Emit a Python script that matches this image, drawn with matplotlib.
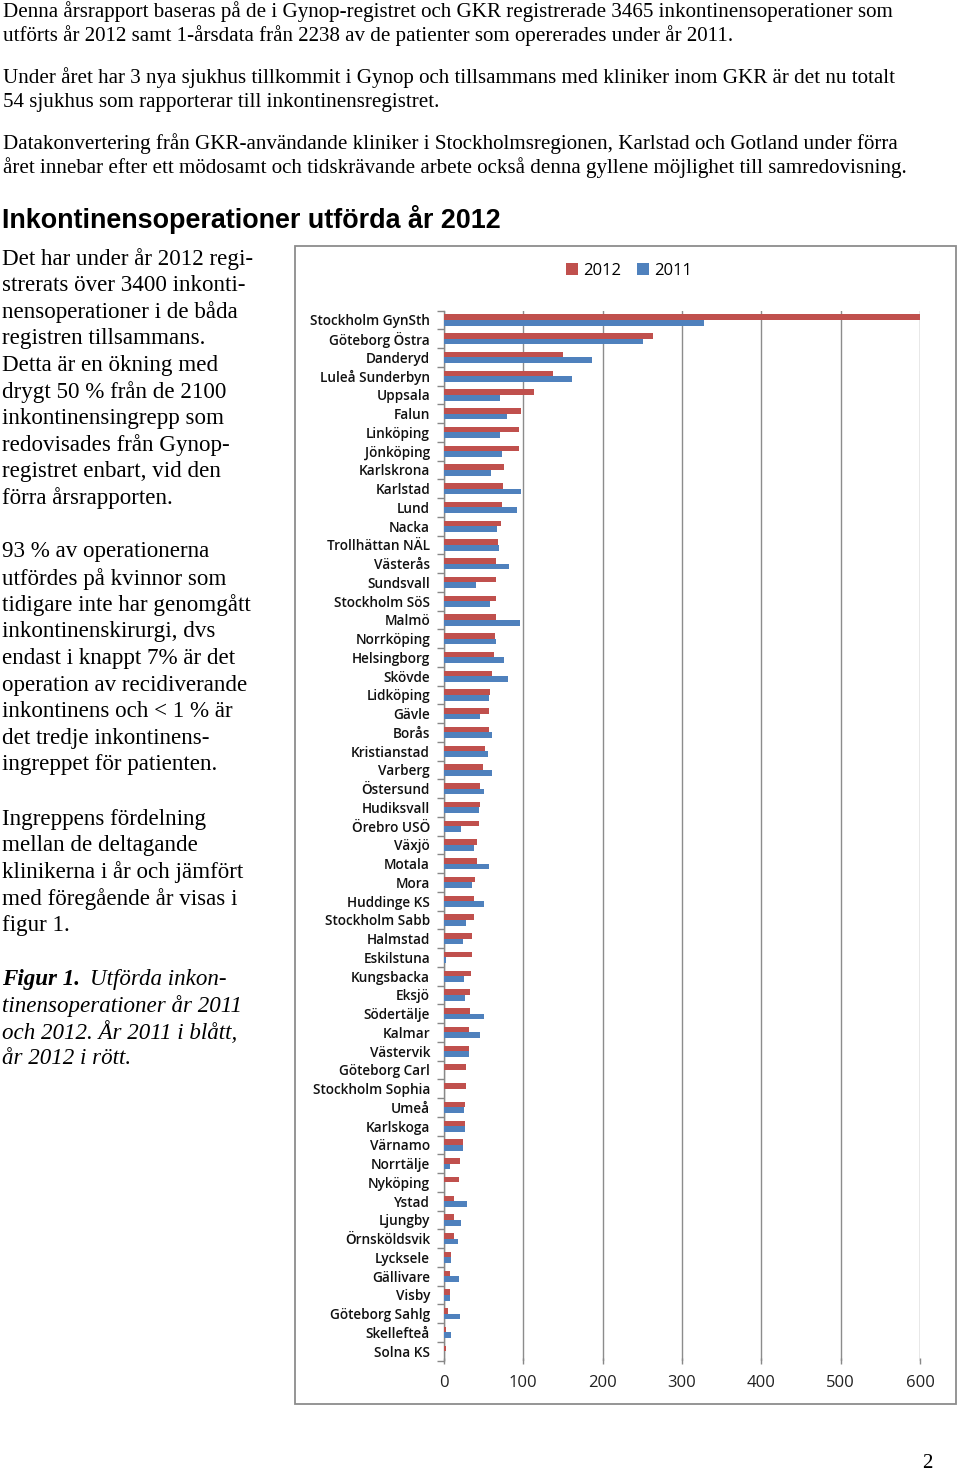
import matplotlib
matplotlib.use("Agg")
import matplotlib.pyplot as plt
from matplotlib.patches import Rectangle, Patch
import numpy as np

W, H = 960, 1475

hospitals = ["Stockholm GynSth", "Göteborg Östra", "Danderyd", "Luleå Sunderbyn", "Uppsala",
             "Falun", "Linköping", "Jönköping", "Karlskrona", "Karlstad", "Lund", "Nacka",
             "Trollhättan NÄL", "Västerås", "Sundsvall", "Stockholm SöS", "Malmö", "Norrköping",
             "Helsingborg", "Skövde", "Lidköping", "Gävle", "Borås", "Kristianstad", "Varberg",
             "Östersund", "Hudiksvall", "Örebro USÖ", "Växjö", "Motala", "Mora", "Huddinge KS",
             "Stockholm Sabb", "Halmstad", "Eskilstuna", "Kungsbacka", "Eksjö", "Södertälje",
             "Kalmar", "Västervik", "Göteborg Carl", "Stockholm Sophia", "Umeå", "Karlskoga",
             "Värnamo", "Norrtälje", "Nyköping", "Ystad", "Ljungby", "Örnsköldsvik", "Lycksele",
             "Gällivare", "Visby", "Göteborg Sahlg", "Skellefteå", "Solna KS"]

ops_2012 = [602, 263, 150, 137, 114, 97, 95, 94, 76, 74, 73, 72, 68, 66, 66, 66, 65, 64,
            63, 61, 58, 57, 57, 52, 49, 45, 45, 44, 42, 42, 39, 38, 38, 35, 35, 34, 33, 33,
            31, 31, 28, 28, 26, 26, 24, 20, 19, 13, 13, 12, 9, 7, 7, 5, 2, 2]

ops_2011 = [328, 251, 187, 161, 71, 79, 71, 73, 59, 97, 92, 67, 69, 82, 40, 58, 96, 66,
            76, 81, 57, 45, 61, 55, 61, 50, 44, 22, 38, 57, 35, 51, 28, 24, 3, 25, 27, 50,
            45, 31, 0, 0, 25, 27, 24, 7, 0, 29, 22, 18, 9, 19, 7, 20, 9, 0]

x_ticks = [0, 100, 200, 300, 400, 500, 600]
series_labels = ["2012", "2011"]
colors = ["#C0504D", "#4F81BD"]

top_paragraphs = [
    ["Denna årsrapport baseras på de i Gynop-registret och GKR registrerade 3465 inkontinensoperationer som",
     "utförts år 2012 samt 1-årsdata från 2238 av de patienter som opererades under år 2011."],
    ["Under året har 3 nya sjukhus tillkommit i Gynop och tillsammans med kliniker inom GKR är det nu totalt",
     "54 sjukhus som rapporterar till inkontinensregistret."],
    ["Datakonvertering från GKR-användande kliniker i Stockholmsregionen, Karlstad och Gotland under förra",
     "året innebar efter ett mödosamt och tidskrävande arbete också denna gyllene möjlighet till samredovisning."],
]
heading = "Inkontinensoperationer utförda år 2012"
left_paragraphs = [
    ["Det har under år 2012 regi-", "strerats över 3400 inkonti-", "nensoperationer i de båda",
     "registren tillsammans.", "Detta är en ökning med", "drygt 50 % från de 2100",
     "inkontinensingrepp som", "redovisades från Gynop-", "registret enbart, vid den",
     "förra årsrapporten."],
    ["93 % av operationerna", "utfördes på kvinnor som", "tidigare inte har genomgått",
     "inkontinenskirurgi, dvs", "endast i knappt 7% är det", "operation av recidiverande",
     "inkontinens och < 1 % är", "det tredje inkontinens-", "ingreppet för patienten."],
    ["Ingreppens fördelning", "mellan de deltagande", "klinikerna i år och jämfört",
     "med föregående år visas i", "figur 1."],
]
caption_lines = ["tinensoperationer år 2011", "och 2012. År 2011 i blått,", "år 2012 i rött."]

fig = plt.figure(figsize=(W / 100, H / 100), dpi=100)
fig.patch.set_facecolor("white")

def fx(x):
    return x / W

def fy(y):
    return 1 - y / H

serif = "Liberation Serif"
top_fs = 15.1
left_fs = 16.6

# top paragraphs
ys_top = [[12, 36], [78, 102], [144, 168]]
for para, ys in zip(top_paragraphs, ys_top):
    for line, y in zip(para, ys):
        fig.text(fx(3), fy(y), line, fontsize=top_fs, family=serif, va="center", ha="left")

fig.text(fx(2), fy(219), heading, fontsize=19.4, family="Liberation Sans", weight="bold",
         va="center", ha="left")

# left column
starts = [259, 552, 819]
lh = 26.6
for para, y0 in zip(left_paragraphs, starts):
    for i, line in enumerate(para):
        fig.text(fx(2), fy(y0 + i * lh), line, fontsize=left_fs, family=serif, va="center", ha="left")

fig.text(fx(2), fy(979), "Figur 1.", fontsize=left_fs, family=serif, style="italic",
         weight="bold", va="center", ha="left")
fig.text(fx(90), fy(979), "Utförda inkon-", fontsize=left_fs, family=serif, style="italic",
         va="center", ha="left")
for i, line in enumerate(caption_lines):
    fig.text(fx(2), fy(979 + (i + 1) * lh), line, fontsize=left_fs, family=serif, style="italic",
             va="center", ha="left")

fig.text(fx(927), fy(1464), "2", fontsize=top_fs, family=serif, va="center", ha="center")

# chart frame
fig.patches.append(Rectangle((fx(294.5), fy(1404)), fx(956) - fx(294.5), fy(245.5) - fy(1404),
                             transform=fig.transFigure, fill=False, edgecolor="#8c8c8c",
                             linewidth=1.3, zorder=0))

n = len(hospitals)
ax_left, ax_right = 444, 920
ax_top, ax_bot = 310.6, 1360.5
ax = fig.add_axes([fx(ax_left), fy(ax_bot), fx(ax_right) - fx(ax_left), fy(ax_top) - fy(ax_bot)])
y = np.arange(n)
bh = 0.3
ax.barh(y - bh / 2, ops_2012, height=bh, color=colors[0], label=series_labels[0], zorder=3)
ax.barh(y + bh / 2, ops_2011, height=bh, color=colors[1], label=series_labels[1], zorder=3)
ax.set_ylim(n - 0.5, -0.5)
ax.set_xlim(0, 600)
ax.set_xticks(x_ticks)
ax.set_xticklabels([str(v) for v in x_ticks], fontsize=12, family="Open Sans", color="#222222")
ax.set_yticks(y)
ax.set_yticklabels(hospitals, fontsize=9.8, family="Open Sans", weight="semibold", color="#111111")
ax.set_yticks(np.arange(n + 1) - 0.5, minor=True)
ax.tick_params(axis="y", which="major", length=0, pad=10)
ax.tick_params(axis="y", which="minor", length=5, color="#888888", width=1)
ax.tick_params(axis="x", which="major", length=5, color="#888888", width=1, pad=8, direction="inout")
ax.grid(axis="x", color="#8c8c8c", linewidth=1.0, zorder=0)
for s in ["top", "right", "bottom"]:
    ax.spines[s].set_visible(False)
ax.spines["left"].set_color("#888888")
ax.spines["left"].set_linewidth(1.0)
ax.set_facecolor("none")

handles = [Patch(facecolor=c) for c in colors]
fig.legend(handles, series_labels, loc="center", bbox_to_anchor=(fx(629), fy(271)),
           ncol=2, frameon=False, prop={"family": "Open Sans", "size": 12},
           handlelength=0.7, handleheight=0.7, handletextpad=0.3, columnspacing=1.0)

fig.savefig("out.png", dpi=100, facecolor="white")
